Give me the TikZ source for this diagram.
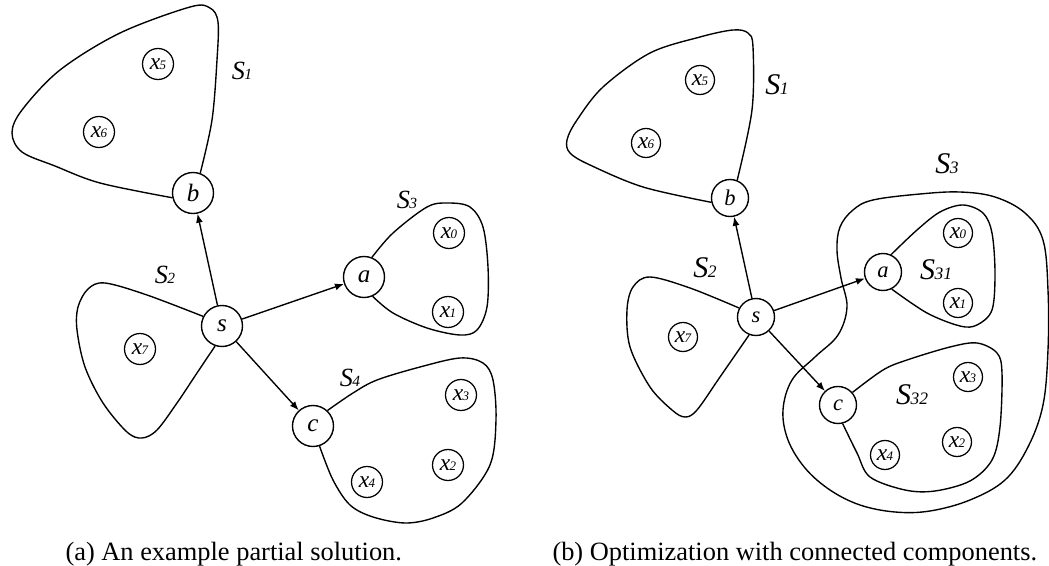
\documentclass[tikz,border=0pt]{standalone}
\usepackage{fontspec}
\setmainfont{Liberation Serif}
\usetikzlibrary{arrows.meta}

% italic letter followed by a small digit string sitting on the baseline
\newcommand{\setlab}[4]{{\fontsize{#1}{#1}\selectfont\itshape #2\kern-0.2pt{\fontsize{#3}{#3}\selectfont #4}}}
\newcommand{\xv}[1]{\setlab{9.4}{x}{5.2}{#1}}

\tikzset{
  bigL/.style={circle, draw, line width=0.55pt, minimum size=16.4pt, inner sep=0pt,
               font=\fontsize{10}{10}\selectfont\itshape},
  bigR/.style={circle, draw, line width=0.55pt, minimum size=14.8pt, inner sep=0pt,
               font=\fontsize{9}{9}\selectfont\itshape},
  smallL/.style={circle, draw, line width=0.5pt, minimum size=12.4pt, inner sep=0pt},
  smallR/.style={circle, draw, line width=0.5pt, minimum size=11.6pt, inner sep=0pt},
  hull/.style={line width=0.55pt},
  arr/.style={line width=0.55pt, -{Latex[length=3.6pt,width=2.8pt]}},
  setname/.style={inner sep=0pt},
  caption/.style={inner sep=0pt, anchor=base west, font=\fontsize{10.56}{12}\selectfont}
}

\begin{document}
\begin{tikzpicture}[x=0.4pt, y=-0.4pt]
\useasboundingbox (0,0) rectangle (1049,566);

% ---------------- (a) partial solution ----------------
\node[bigL] (bL) at (193,193) {b};
\node[bigL] (sL) at (222,326) {s};
\node[bigL] (aL) at (364,277) {a};
\node[bigL] (cL) at (313,426) {c};

\node[smallL] (x5L) at (158,64)  {\xv{5}};
\node[smallL] (x6L) at (99,132)  {\xv{6}};
\node[smallL] (x0L) at (449,233) {\xv{0}};
\node[smallL] (x1L) at (448,312) {\xv{1}};
\node[smallL] (x7L) at (140,349) {\xv{7}};
\node[smallL] (x3L) at (461,395) {\xv{3}};
\node[smallL] (x2L) at (448,465) {\xv{2}};
\node[smallL] (x4L) at (367,482) {\xv{4}};

\node[setname] (S1L) at (242,71)  {\setlab{10.5}{S}{6.2}{1}};
\node[setname] (S2L) at (165,275) {\setlab{10.5}{S}{6.2}{2}};
\node[setname] (S3L) at (407,200) {\setlab{10.5}{S}{6.2}{3}};
\node[setname] (S4L) at (350,378) {\setlab{10.5}{S}{6.2}{4}};

\draw[arr] (sL) -- (bL);
\draw[arr] (sL) -- (aL);
\draw[arr] (sL) -- (cL);

\draw[hull] plot[smooth, tension=0.55] coordinates {(bL.193) (100,183) (55,166) (22,152) (12,133) (22,110) (60,70) (120,33) (190,7) (210,8) (218,22) (217,60) (212,120) (bL.70)};
\draw[hull] plot[smooth, tension=0.55] coordinates {(sL.153) (147,295) (105,283) (88,289) (78,307) (77,330) (85,367) (103,403) (127,432) (142,438) (157,430) (177,403) (197,373) (sL.251)};
\draw[hull] plot[smooth, tension=0.55] coordinates {(aL.68) (393,233) (427,207) (448,203) (470,207) (483,227) (488,267) (487,307) (477,330) (460,335) (427,328) (393,313) (aL.294)};
\draw[hull] plot[smooth, tension=0.55] coordinates {(cL.47) (353,393) (377,380) (420,367) (460,358) (483,363) (493,380) (496,420) (490,465) (462,503) (433,518) (405,523) (373,517) (350,505) (333,480) (cL.288)};

\node[caption] (capA) at (65,560) {(a) An example partial solution.};

% ---------------- (b) connected components ----------------
\node[bigR] (bR) at (730,198) {b};
\node[bigR] (sR) at (756,317) {s};
\node[bigR] (aR) at (883,272) {a};
\node[bigR] (cR) at (838,405) {c};

\node[smallR] (x5R) at (700,80)  {\xv{5}};
\node[smallR] (x6R) at (646,143) {\xv{6}};
\node[smallR] (x0R) at (958,233) {\xv{0}};
\node[smallR] (x1R) at (958,303) {\xv{1}};
\node[smallR] (x7R) at (683,337) {\xv{7}};
\node[smallR] (x3R) at (968,377) {\xv{3}};
\node[smallR] (x2R) at (957,442) {\xv{2}};
\node[smallR] (x4R) at (885,455) {\xv{4}};

\node[setname] (S1R)  at (777,85)  {\setlab{12}{S}{7}{1}};
\node[setname] (S2R)  at (705,268) {\setlab{12}{S}{7}{2}};
\node[setname] (S3R)  at (947,164) {\setlab{12}{S}{7}{3}};
\node[setname] (S31R) at (936,270) {\setlab{12}{S}{7}{31}};
\node[setname] (S32R) at (912,395) {\setlab{12}{S}{7}{32}};

\draw[arr] (sR) -- (bR);
\draw[arr] (sR) -- (aR);
\draw[arr] (sR) -- (cR);

\draw[hull] plot[smooth, tension=0.55] coordinates {(bR.193) (643,187) (590,165) (570,153) (567,140) (577,120) (603,87) (650,53) (700,37) (733,30) (748,33) (753,47) (752,110) (bR.68)};
\draw[hull] plot[smooth, tension=0.55] coordinates {(sR.152) (690,288) (650,277) (633,287) (627,310) (630,347) (650,387) (672,410) (685,417) (697,410) (720,377) (sR.249)};
\draw[hull] plot[smooth, tension=0.55] coordinates {(aR.65) (917,230) (940,212) (963,205) (983,213) (992,233) (995,273) (992,310) (977,325) (960,326) (927,313) (aR.297)};
\draw[hull] plot[smooth, tension=0.55] coordinates {(cR.41) (883,370) (907,360) (950,347) (977,343) (997,353) (1002,373) (1000,427) (992,460) (970,481) (935,491) (905,490) (870,477) (857,453) (cR.284)};
\draw[hull] plot[smooth cycle, tension=0.6] coordinates {(873,200) (920,194) (960,192) (995,197) (1025,213) (1043,240) (1048,290) (1048,350) (1043,405) (1028,447) (1005,480) (970,500) (930,511) (895,512) (860,505) (830,490) (805,468) (788,440) (783,410) (792,380) (815,357) (838,335) (847,307) (841,278) (837,250) (840,227) (853,210)};

\node[caption] (capB) at (552,560) {(b) Optimization with connected components.};
\end{tikzpicture}
\end{document}
